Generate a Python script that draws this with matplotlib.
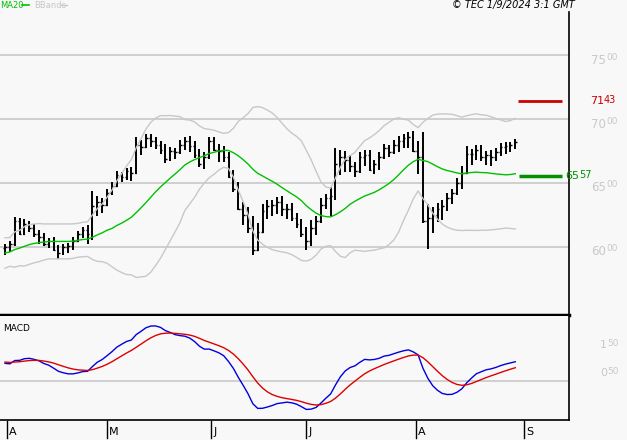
import matplotlib
matplotlib.use("Agg")
import matplotlib.pyplot as plt
import numpy as np
import pandas as pd

# warm-up closes (before visible window) used for indicators
warmup = [5650, 5700, 5680, 5720, 5760, 5740, 5700, 5750, 5800, 5780,
          5820, 5850, 5830, 5870, 5900, 5880, 5920, 5950, 5930, 5960,
          5980, 5950, 5990, 6020, 6000, 5970, 6010, 6040, 6020, 5990]
closes = [6000, 6020, 6200, 6100, 6180, 6150, 6100, 6080, 6020, 6050,
          5980, 5950, 6000, 6010, 6050, 6100, 6130, 6100, 6320, 6350,
          6330, 6420, 6480, 6560, 6550, 6590, 6580, 6800, 6780, 6850,
          6830, 6800, 6760, 6690, 6750, 6740, 6800, 6830, 6790, 6720,
          6650, 6700, 6830, 6760, 6750, 6700, 6550, 6450, 6300, 6250,
          6150, 5980, 6120, 6280, 6320, 6330, 6350, 6300, 6300, 6230,
          6180, 6100, 6050, 6150, 6200, 6330, 6380, 6400, 6650, 6700,
          6680, 6630, 6590, 6700, 6720, 6600, 6650, 6700, 6770, 6740,
          6800, 6830, 6850, 6860, 6750, 6700, 6200, 6230, 6250, 6300,
          6320, 6380, 6420, 6500, 6580, 6730, 6730, 6760, 6700, 6720,
          6700, 6740, 6780, 6790, 6800, 6820]
ranges = [90, 80, 110, 100, 120, 90, 100, 110, 90, 80,
          100, 110, 90, 80, 100, 90, 80, 150, 380, 150,
          120, 100, 90, 100, 80, 90, 110, 200, 120, 110,
          100, 90, 100, 150, 110, 90, 110, 100, 120, 130,
          140, 130, 110, 100, 140, 120, 150, 170, 200, 180,
          200, 300, 220, 180, 150, 120, 130, 150, 120, 140,
          120, 140, 180, 200, 150, 170, 120, 220, 400, 200,
          160, 130, 120, 140, 130, 120, 110, 140, 120, 100,
          110, 130, 110, 120, 160, 260, 650, 350, 200, 150,
          160, 140, 120, 130, 180, 200, 130, 120, 130, 110,
          120, 100, 100, 90, 80, 80]
month_labels = ["A", "M", "J", "J", "A", "S"]
month_pos = [0.4, 21, 42.4, 62, 84.6, 106.8]
level_red = 7143
level_green = 6557

allc = np.array(warmup + closes, float)
n0 = len(warmup)
ser = pd.Series(allc)
ma = ser.rolling(20).mean().values[n0:]
sd = ser.rolling(20).std(ddof=0).values[n0:]
ema12 = ser.ewm(span=12, adjust=False).mean()
ema26 = ser.ewm(span=26, adjust=False).mean()
macd = (ema12 - ema26)
sig = macd.ewm(span=9, adjust=False).mean()
macd = macd.values[n0:]; sig = sig.values[n0:]

W, H = 627, 440
bg = "#f8f8f8"
fig = plt.figure(figsize=(W/100, H/100), dpi=100, facecolor=bg)
def ax_at(x0, y0, x1, y1):
    return fig.add_axes([x0/W, 1 - y1/H, (x1-x0)/W, (y1-y0)/H], facecolor=bg)
def px(x, y):
    return x/W, 1 - y/H

ppx = 4.86
xl = (-5/ppx, (569-5)/ppx)
idx = np.arange(len(closes))

ax = ax_at(0, 12, 569, 315)
ax.set_xlim(*xl)
ax.set_ylim(6000 - 68*500/64, 7500 + 43*500/64)
for g in [6000, 6500, 7000, 7500]:
    ax.axhline(g, color="#c8c8c8", lw=1.2, zorder=0)
c = np.array(closes); r = np.array(ranges)
prev = np.concatenate([[warmup[-1]], c[:-1]])
hi = np.maximum(c, prev) + r*0.3
lo = hi - r
lo = np.minimum(lo, np.minimum(c, prev) - 10)
ax.vlines(idx, lo, hi, color="black", lw=1.4)
ax.hlines(c, idx, idx+0.35, color="black", lw=1)
ax.hlines(prev, idx-0.35, idx, color="black", lw=1)
ax.plot(idx, ma, color="#00c000", lw=1)
ax.plot(idx, ma+2*sd, color="#c8c8c8", lw=1)
ax.plot(idx, ma-2*sd, color="#c8c8c8", lw=1)
ax.hlines(level_red, (518-5)/ppx, (562-5)/ppx, color="#cc0000", lw=2)
ax.hlines(level_green, (519-5)/ppx, (562-5)/ppx, color="#009000", lw=2.5)
ax.set_xticks([]); ax.set_yticks([])
for sp in ["top", "left"]:
    ax.spines[sp].set_visible(False)
ax.spines["right"].set_linewidth(1.2)
ax.spines["bottom"].set_linewidth(2.5)

# MACD panel
ax2 = ax_at(0, 316, 569, 420)
ax2.set_xlim(*xl)
ax2.set_ylim(-(420-381)/0.27, (381-316)/0.27)
ax2.axhline(0, color="#c8c8c8", lw=1.2)
ax2.plot(idx, macd, color="#0000dd", lw=1)
ax2.plot(idx, sig, color="#dd0000", lw=1)
ax2.set_xticks([]); ax2.set_yticks([])
for sp in ["top", "left"]:
    ax2.spines[sp].set_visible(False)
ax2.spines["bottom"].set_linewidth(1.2); ax2.spines["right"].set_linewidth(1.2)
fig.text(*px(3, 328), "MACD", fontsize=6.5, va="center")

fnt = dict(family="DejaVu Sans", fontsize=8)
for lab, p in zip(month_labels, month_pos):
    xp = 5 + p*ppx
    fig.add_artist(plt.Line2D([xp/W, xp/W], [1-421/H, 1-438/H], color="black", lw=1))
    fig.text(*px(xp+2, 432), lab, va="center", ha="left", **fnt)

grey = "#c8c8c8"
for v, y in [("75", 61), ("70", 124), ("65", 187), ("60", 251)]:
    fig.text(*px(606, y), v, color=grey, ha="right", va="center", fontsize=8.5)
    fig.text(*px(606, y-3), "00", color=grey, ha="left", va="center", fontsize=6.5)
fig.text(*px(604, 101), "71", color="#cc0000", ha="right", va="center", fontsize=8)
fig.text(*px(604, 100), "43", color="#cc0000", ha="left", va="center", fontsize=7)
fig.text(*px(579, 176), "65", color="#009000", ha="right", va="center", fontsize=8)
fig.text(*px(579, 175), "57", color="#009000", ha="left", va="center", fontsize=7)
for v, y in [("1", 345), ("0", 373)]:
    fig.text(*px(607, y), v, color=grey, ha="right", va="center", fontsize=8)
    fig.text(*px(607, y-2), "50", color=grey, ha="left", va="center", fontsize=6.5)

fig.text(*px(0, 6), "MA20", color="#00c000", va="center", fontsize=6)
fig.add_artist(plt.Line2D([22/W, 29/W], [1-5/H]*2, color="#00c000", lw=1.2))
fig.text(*px(34, 6), "BBands", color=grey, va="center", fontsize=6)
fig.add_artist(plt.Line2D([60/W, 67/W], [1-5/H]*2, color=grey, lw=1))
fig.text(*px(575, 5), "© TEC 1/9/2024 3:1 GMT", ha="right", va="center",
         fontsize=7, style="italic")
fig.savefig("out.png", dpi=100, facecolor=bg)
